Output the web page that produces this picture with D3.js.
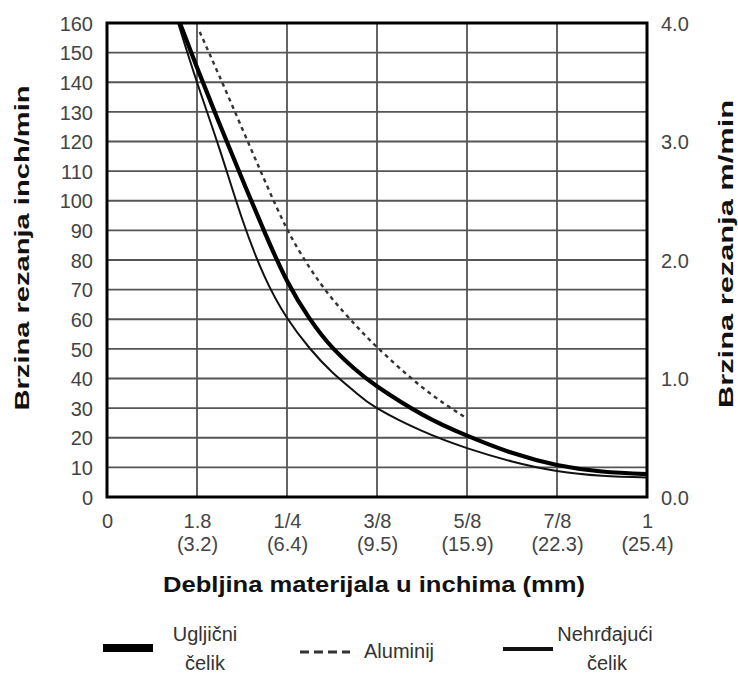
<!DOCTYPE html>
<html>
<head>
<meta charset="utf-8">
<script src="https://cdn.jsdelivr.net/npm/d3@7"></script>
<style>
  html, body { margin: 0; padding: 0; background: #fff; }
  svg { display: block; }
  .tick-label { font-family: "Liberation Sans Narrow", "Liberation Sans", Arial, sans-serif; fill: #444; }
  .title { font-family: "Liberation Sans Narrow", "Liberation Sans", Arial, sans-serif; font-weight: bold; fill: #111; }
  .legend-text { font-family: "Liberation Sans Narrow", "Liberation Sans", Arial, sans-serif; fill: #333; }
</style>
</head>
<body>
<script>
// ---- Data ----
const xTickTop = ["0", "1.8", "1/4", "3/8", "5/8", "7/8", "1"];
const xTickBottom = ["", "(3.2)", "(6.4)", "(9.5)", "(15.9)", "(22.3)", "(25.4)"];
const yTicksLeft = [0, 10, 20, 30, 40, 50, 60, 70, 80, 90, 100, 110, 120, 130, 140, 150, 160];
const yTicksRight = [0, 1, 2, 3, 4];

// x values are positions along the categorical thickness axis (0 = "0", 6 = "1")
const carbonX = [0.81, 1.0, 1.25, 1.5, 1.75, 2.0, 2.25, 2.5, 2.75, 3.0, 3.5, 4.0, 4.5, 5.0, 5.5, 6.0];
const carbonY = [160, 145, 126, 107.5, 89.5, 73, 60.3, 50.6, 43.3, 37.4, 27.9, 20.7, 14.9, 10.8, 8.6, 7.7];

const aluX = [1.03, 1.25, 1.5, 1.75, 2.0, 2.25, 2.5, 2.75, 3.0, 3.5, 4.0];
const aluY = [157, 142, 124.5, 107, 90.5, 77.5, 67, 58.4, 50.6, 37.1, 26.5];

const stainX = [0.79, 1.0, 1.25, 1.5, 1.75, 2.0, 2.25, 2.5, 2.75, 3.0, 3.5, 4.0, 4.5, 5.0, 5.5, 6.0];
const stainY = [160, 140, 117.5, 94, 74.5, 60.5, 50.3, 42.2, 35.6, 30, 22.3, 16.5, 12, 8.8, 7.2, 6.6];

const legendLabels = [["Ugljični", "čelik"], ["Aluminij"], ["Nehrđajući", "čelik"]];

// ---- Layout ----
const W = 738, H = 675;
const plot = { left: 107, right: 647, top: 23, bottom: 497 };

const svg = d3.select("body").append("svg").attr("width", W).attr("height", H);

const x = d3.scaleLinear().domain([0, 6]).range([plot.left, plot.right]);
const y = d3.scaleLinear().domain([0, 160]).range([plot.bottom, plot.top]);
const yR = d3.scaleLinear().domain([0, 4]).range([plot.bottom, plot.top]);

// Grid
const grid = svg.append("g");
grid.selectAll("line.h").data(yTicksLeft.filter(v => v > 0 && v < 160)).enter().append("line")
  .attr("x1", plot.left).attr("x2", plot.right)
  .attr("y1", d => y(d)).attr("y2", d => y(d))
  .attr("stroke", "#555").attr("stroke-width", 1.8);
grid.selectAll("line.v").data(d3.range(1, 6)).enter().append("line")
  .attr("y1", plot.top).attr("y2", plot.bottom)
  .attr("x1", d => x(d)).attr("x2", d => x(d))
  .attr("stroke", "#555").attr("stroke-width", 1.8);

// Curves
svg.append("defs").append("clipPath").attr("id", "clip")
  .append("rect").attr("x", plot.left).attr("y", plot.top)
  .attr("width", plot.right - plot.left).attr("height", plot.bottom - plot.top);

const line = d3.line().x(d => x(d[0])).y(d => y(d[1])).curve(d3.curveNatural);
const curves = svg.append("g").attr("clip-path", "url(#clip)");
curves.append("path").datum(d3.zip(stainX, stainY)).attr("d", line)
  .attr("fill", "none").attr("stroke", "#111").attr("stroke-width", 2);
curves.append("path").datum(d3.zip(aluX, aluY)).attr("d", line)
  .attr("fill", "none").attr("stroke", "#333").attr("stroke-width", 2.4)
  .attr("stroke-dasharray", "4,4");
curves.append("path").datum(d3.zip(carbonX, carbonY)).attr("d", line)
  .attr("fill", "none").attr("stroke", "#000").attr("stroke-width", 4.2);

// Frame
svg.append("rect").attr("x", plot.left).attr("y", plot.top)
  .attr("width", plot.right - plot.left).attr("height", plot.bottom - plot.top)
  .attr("fill", "none").attr("stroke", "#000").attr("stroke-width", 3);

// Left axis labels
const yAxisL = d3.axisLeft(y).tickValues(yTicksLeft).tickSize(0).tickPadding(14);
const gL = svg.append("g").attr("transform", `translate(${plot.left},0)`).call(yAxisL);
gL.select(".domain").remove();
gL.selectAll("text").attr("class", "tick-label").attr("font-size", 20).attr("dy", "0.36em")
  .attr("font-family", null).attr("fill", null);

// Right axis labels
const yAxisR = d3.axisRight(yR).tickValues(yTicksRight).tickSize(0).tickPadding(14).tickFormat(d3.format(".1f"));
const gR = svg.append("g").attr("transform", `translate(${plot.right},0)`).call(yAxisR);
gR.select(".domain").remove();
gR.selectAll("text").attr("class", "tick-label").attr("font-size", 20).attr("dy", "0.36em")
  .attr("font-family", null).attr("fill", null);

// Bottom axis labels (two lines)
const xAxis = d3.axisBottom(x).tickValues(d3.range(0, 7)).tickSize(0).tickPadding(17)
  .tickFormat(i => xTickTop[i]);
const gB = svg.append("g").attr("transform", `translate(0,${plot.bottom})`).call(xAxis);
gB.select(".domain").remove();
gB.selectAll("text").attr("class", "tick-label").attr("font-size", 20)
  .attr("font-family", null).attr("fill", null)
  .each(function(i) {
    const t = d3.select(this);
    t.text(null);
    t.append("tspan").attr("x", 0).attr("dy", "0.71em").text(xTickTop[i]);
    if (xTickBottom[i]) t.append("tspan").attr("x", 0).attr("dy", "1.15em").text(xTickBottom[i]);
  });

// Titles
svg.append("text").attr("class", "title").attr("font-size", 22)
  .attr("x", 374).attr("y", 592).attr("text-anchor", "middle")
  .attr("textLength", 422).attr("lengthAdjust", "spacingAndGlyphs")
  .text("Debljina materijala u inchima (mm)");
svg.append("text").attr("class", "title").attr("font-size", 21)
  .attr("transform", "translate(29,248) rotate(-90)").attr("text-anchor", "middle")
  .attr("textLength", 325).attr("lengthAdjust", "spacingAndGlyphs")
  .text("Brzina rezanja inch/min");
svg.append("text").attr("class", "title").attr("font-size", 21)
  .attr("transform", "translate(733,254) rotate(-90)").attr("text-anchor", "middle")
  .attr("textLength", 308).attr("lengthAdjust", "spacingAndGlyphs")
  .text("Brzina rezanja m/min");

// Legend
const lg = svg.append("g");
lg.append("line").attr("x1", 103).attr("x2", 153).attr("y1", 648).attr("y2", 648)
  .attr("stroke", "#000").attr("stroke-width", 8);
lg.append("text").attr("class", "legend-text").attr("font-size", 20)
  .attr("x", 205).attr("y", 641).attr("text-anchor", "middle").text(legendLabels[0][0]);
lg.append("text").attr("class", "legend-text").attr("font-size", 20)
  .attr("x", 205).attr("y", 670).attr("text-anchor", "middle").text(legendLabels[0][1]);

lg.append("line").attr("x1", 300).attr("x2", 350).attr("y1", 652).attr("y2", 652)
  .attr("stroke", "#333").attr("stroke-width", 3).attr("stroke-dasharray", "9,5");
lg.append("text").attr("class", "legend-text").attr("font-size", 20)
  .attr("x", 364).attr("y", 658).text(legendLabels[1][0]);

lg.append("line").attr("x1", 503).attr("x2", 553).attr("y1", 649).attr("y2", 649)
  .attr("stroke", "#111").attr("stroke-width", 4);
lg.append("text").attr("class", "legend-text").attr("font-size", 20)
  .attr("x", 605).attr("y", 641).attr("text-anchor", "middle").text(legendLabels[2][0]);
lg.append("text").attr("class", "legend-text").attr("font-size", 20)
  .attr("x", 607).attr("y", 670).attr("text-anchor", "middle").text(legendLabels[2][1]);
</script>
</body>
</html>
